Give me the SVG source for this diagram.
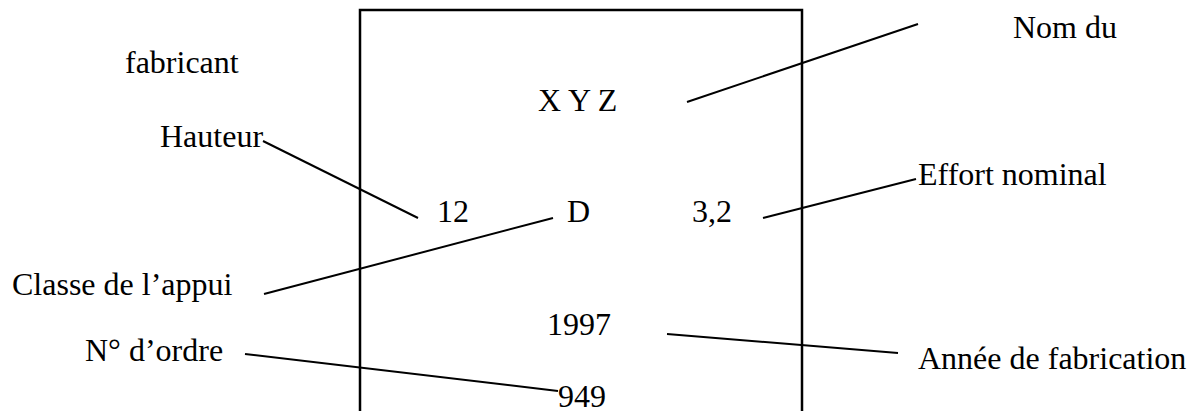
<svg xmlns="http://www.w3.org/2000/svg" width="1195" height="411" viewBox="0 0 1195 411">
<style>
text{font-family:"Liberation Serif","Times New Roman",serif;font-size:32px;fill:#000}
.ln{stroke:#000;stroke-width:2;fill:none}
.box{stroke:#000;stroke-width:2.5;fill:none}
</style>
<rect width="1195" height="411" fill="#fff"/>
<g id="plate">
<rect class="box" x="360" y="10" width="442" height="420"/>
</g>
<g id="n-xyz"><text x="538" y="111">X Y Z</text></g>
<g id="n-12"><text x="437" y="222">12</text></g>
<g id="n-d"><text x="567" y="222">D</text></g>
<g id="n-32"><text x="692" y="222">3,2</text></g>
<g id="n-1997"><text x="547" y="335">1997</text></g>
<g id="n-949"><text x="558" y="407">949</text></g>
<g id="l-nom"><text x="1013" y="38">Nom du</text><text x="125" y="73">fabricant</text></g>
<g id="l-hauteur"><text x="160" y="147">Hauteur</text></g>
<g id="l-effort"><text x="918" y="185">Effort nominal</text></g>
<g id="l-classe"><text x="12" y="295">Classe de l’appui</text></g>
<g id="l-ordre"><text x="85" y="361">N° d’ordre</text></g>
<g id="l-annee"><text x="918" y="369">Année de fabrication</text></g>
<g id="connectors">
<line class="ln" x1="687" y1="102" x2="918" y2="24"/>
<line class="ln" x1="263" y1="141" x2="418" y2="218"/>
<line class="ln" x1="763" y1="218" x2="916" y2="179"/>
<line class="ln" x1="264" y1="294" x2="553" y2="218"/>
<line class="ln" x1="667" y1="334" x2="898" y2="353"/>
<line class="ln" x1="245" y1="354" x2="558" y2="391"/>
</g>
</svg>
